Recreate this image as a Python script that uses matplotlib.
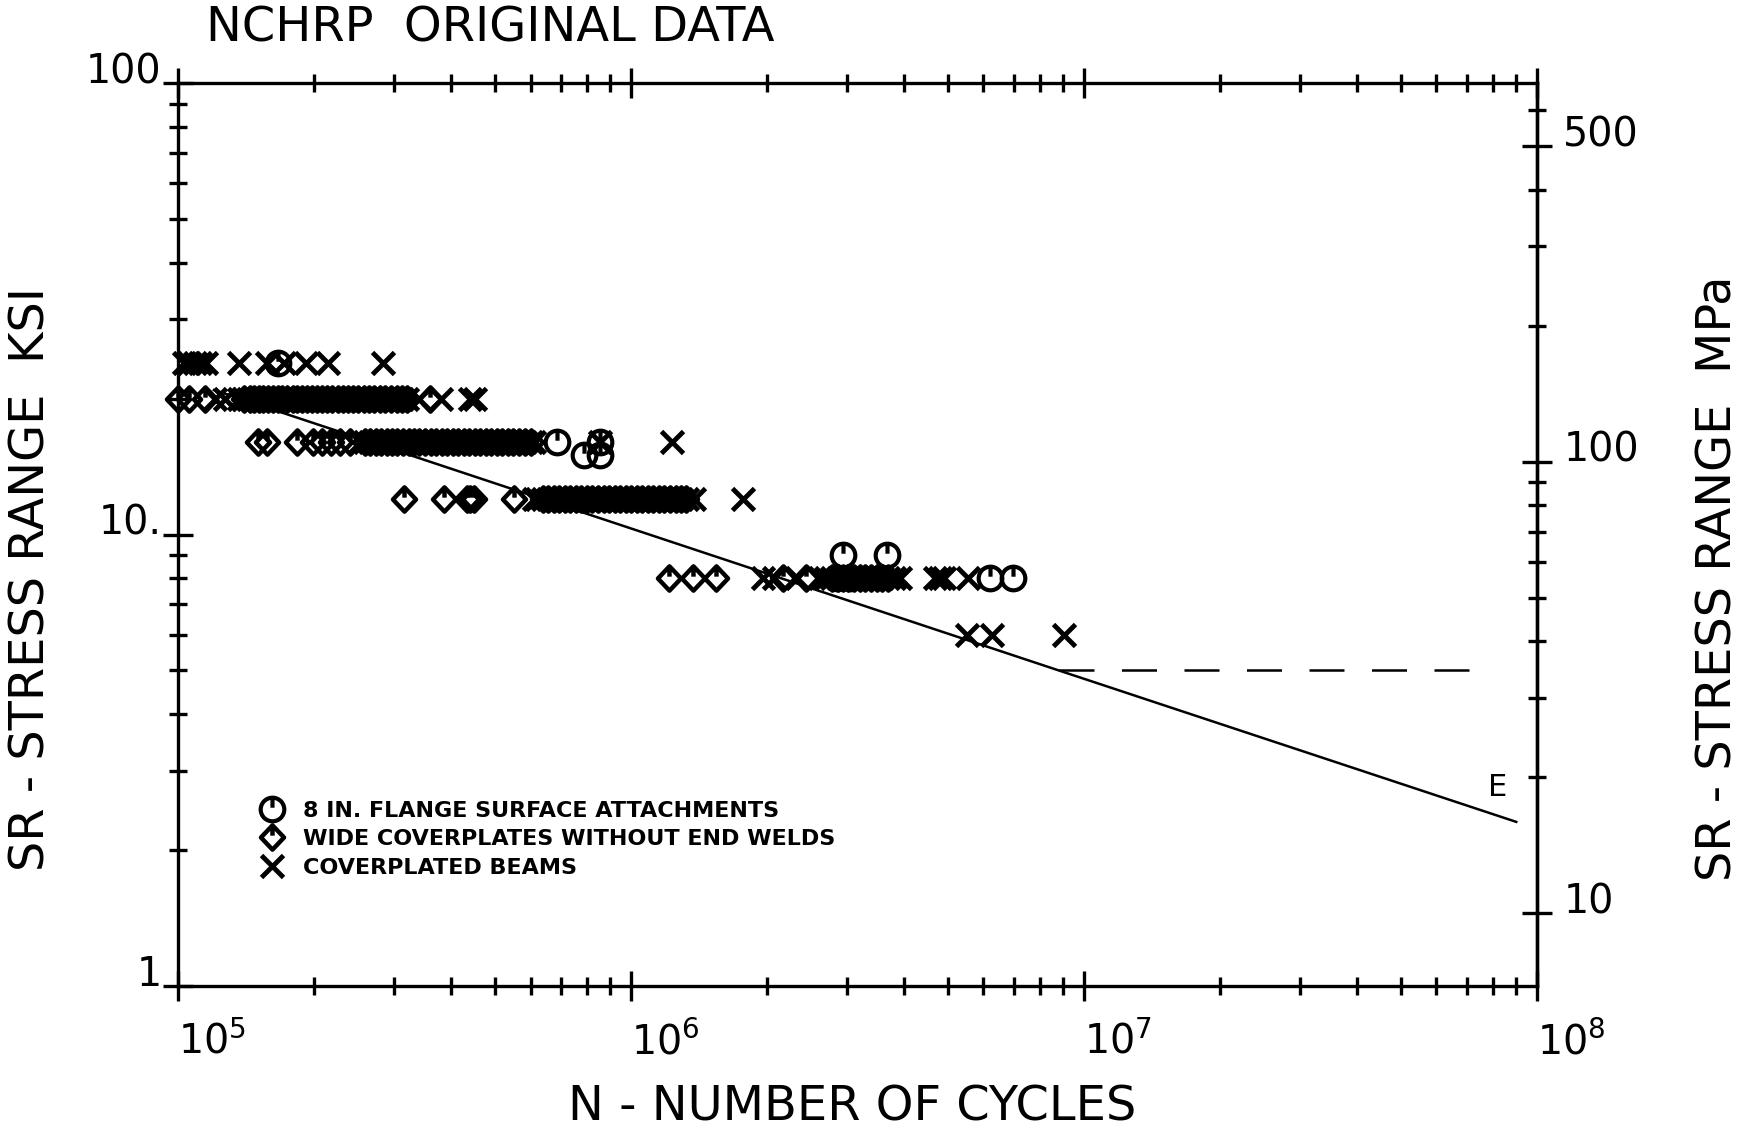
import matplotlib
matplotlib.use("Agg")
import matplotlib.pyplot as plt
import numpy as np
from matplotlib.path import Path
from matplotlib.ticker import NullFormatter

# cycles in thousands, grouped by stress range (ksi)
flange_24 = [166]
flange_16 = [686, 855]
flange_15 = [786, 855]
flange_9 = [2940, 3670]
flange_8 = [2850, 3050, 6210, 6980]

wide_20 = [100, 106, 114.5, 140, 144, 147, 151, 154, 158, 162, 166, 170, 174,
           179, 183, 188, 193, 198, 203, 208, 213, 219, 225, 231, 237, 243,
           250, 257, 264, 271, 279, 287, 295, 304, 312, 320, 360]
wide_16 = [150, 157, 183, 199, 208, 218, 228, 240, 259, 266, 273, 281, 289,
           297, 305, 314, 323, 332, 341, 351, 361, 371, 382, 393, 404, 415,
           427, 439, 452, 465, 478, 492, 506, 520, 535, 550, 566, 582, 600]
wide_12 = [315, 386, 435, 442, 450, 551, 638, 656, 675, 694, 714, 734, 755,
           777, 799, 822, 845, 870, 894, 920, 946, 973, 1000, 1030, 1060, 1090,
           1120, 1150, 1185, 1220, 1255, 1290, 1320]
wide_8 = [1210, 1370, 1540, 2160, 2440, 2780, 2860, 2940, 3020, 3110, 3200,
          3290, 3390, 3490, 3590, 3700]

cover_24 = [103, 106, 109, 112, 115, 136, 157, 171, 192, 214, 284]
cover_20 = [120.5, 127, 136, 139, 143, 146, 150, 153, 158, 161, 166, 169, 175,
            178, 183, 188, 193, 197, 203, 208, 213, 219, 225, 231, 237, 243,
            250, 257, 264, 271, 279, 287, 295, 303, 312, 320, 341, 381, 442, 452]
cover_16 = [252, 259, 266, 273, 281, 289, 297, 305, 314, 323, 332, 341, 351,
            361, 371, 382, 393, 404, 415, 427, 439, 452, 465, 478, 492, 506,
            520, 535, 550, 566, 582, 600, 612, 855, 1230]
cover_12 = [610, 620, 638, 656, 675, 694, 714, 734, 755, 777, 799, 822, 845,
            870, 894, 920, 946, 973, 1000, 1030, 1060, 1090, 1120, 1150, 1185,
            1220, 1255, 1290, 1330, 1380, 1770]
cover_8 = [1960, 2070, 2330, 2620, 2700, 2780, 2860, 2940, 3020, 3110, 3200,
           3290, 3390, 3490, 3590, 3700, 3810, 3930, 4700, 4820, 4900, 5550]
cover_6 = [5510, 6280, 9020]

# category E design line and its fatigue limit
line_n = [1.2e5, 8.8e6, 9.0e7]
line_s = [20.9, 5.0, 2.31]
cafl_n = [8.8e6, 8.1e7]
cafl_s = [5.0, 5.0]


def rows(groups):
    n = np.concatenate([np.array(g, float) * 1e3 for g, s in groups])
    s = np.concatenate([np.full(len(g), s, float) for g, s in groups])
    return n, s


flange_n, flange_s = rows([(flange_24, 24), (flange_16, 16), (flange_15, 15),
                           (flange_9, 9), (flange_8, 8)])
wide_n, wide_s = rows([(wide_20, 20), (wide_16, 16), (wide_12, 12), (wide_8, 8)])
cover_n, cover_s = rows([(cover_24, 24), (cover_20, 20), (cover_16, 16),
                         (cover_12, 12), (cover_8, 8), (cover_6, 6)])

# plotter style markers: circle / diamond with a stroke from the top
stroke = Path([(0, 1), (0, 0.15)], [Path.MOVETO, Path.LINETO])
circ_mark = Path.make_compound_path(Path.unit_circle(), stroke)
diamond = Path([(0, 1), (0.95, 0), (0, -1), (-0.95, 0), (0, 1)],
               [Path.MOVETO, Path.LINETO, Path.LINETO, Path.LINETO, Path.CLOSEPOLY])
diam_mark = Path.make_compound_path(diamond, stroke)

fig = plt.figure(figsize=(17.42, 11.30), dpi=100)
ax = fig.add_axes([0.1022, 0.1274, 0.7801, 0.7991])
ax.set_xscale('log')
ax.set_yscale('log')
ax.set_xlim(1e5, 1e8)
ax.set_ylim(1, 100)

mk = dict(color='black', linestyle='none', clip_on=False, zorder=3)
ax.plot(flange_n, flange_s, marker=circ_mark, ms=17, mew=3.0,
        mfc='none', label='8 IN. FLANGE SURFACE ATTACHMENTS', **mk)
ax.plot(wide_n, wide_s, marker=diam_mark, ms=17.5, mew=3.2,
        mfc='none', label='WIDE COVERPLATES WITHOUT END WELDS', **mk)
ax.plot(cover_n, cover_s, marker='x', ms=16.5, mew=3.5,
        label='COVERPLATED BEAMS', **mk)

ax.plot(line_n, line_s, color='black', lw=1.8)
ax.plot(cafl_n, cafl_s, color='black', lw=1.8, dashes=(14, 11))
ax.text(8.2e7, 2.75, 'E', fontsize=22, ha='center', va='center')

for sp in ax.spines.values():
    sp.set_linewidth(2.4)

ax.set_xticks([1e5, 1e6, 1e7, 1e8],
              labels=[r'$10^5$', r'$10^6$', r'$10^7$', r'$10^8$'])
ax.set_xticks([m * 10.0 ** k for k in range(5, 8) for m in range(2, 10)],
              minor=True)
ax.set_yticks([1, 10, 100], labels=['1', '10.', '100'])
ax.set_yticks([m * 10.0 ** k for k in range(0, 2) for m in range(2, 10)],
              minor=True)
ax.xaxis.set_minor_formatter(NullFormatter())
ax.yaxis.set_minor_formatter(NullFormatter())

ax.tick_params(which='both', direction='inout', width=2.4, top=True,
               right=False, labelsize=28.5)
ax.tick_params(which='major', length=22)
ax.tick_params(which='minor', length=13)
ax.tick_params(axis='x', pad=15)
ax.tick_params(axis='y', pad=1)
for t in ax.get_xticklabels():
    t.set_ha('left')
for t in ax.get_yticklabels():
    t.set_va('baseline')

sec = ax.secondary_yaxis('right', functions=(lambda k: k * 6.895,
                                             lambda m: m / 6.895))
sec.set_yticks([10, 100, 500], labels=['10', '100', '500'])
sec.set_yticks([20, 30, 40, 50, 60, 70, 80, 90, 200, 300, 400, 600], minor=True)
sec.yaxis.set_minor_formatter(NullFormatter())
sec.tick_params(which='both', direction='inout', width=2.4, labelsize=28.5)
sec.tick_params(which='major', length=22, pad=8)
sec.tick_params(which='minor', length=13)
sec.spines['right'].set_linewidth(2.4)
for t in sec.get_yticklabels():
    t.set_va('baseline')

ax.legend(loc='lower left', bbox_to_anchor=(0.046, 0.098), frameon=False,
          numpoints=1, handlelength=1.0, handletextpad=0.9, labelspacing=0.38,
          prop={'weight': 'bold', 'size': 16})

lab = dict(family='DejaVu Sans', fontsize=34.5, va='center')
fig.text(0.118, 0.975, 'NCHRP  ORIGINAL DATA', ha='left', **lab)
fig.text(0.489, 0.020, 'N - NUMBER OF CYCLES', ha='center', **lab)
fig.text(0.018, 0.488, 'SR - STRESS RANGE  KSI', rotation=90, ha='center', **lab)
fig.text(0.986, 0.488, 'SR - STRESS RANGE  MPa', rotation=90, ha='center', **lab)

fig.savefig('out.png', dpi=100)
